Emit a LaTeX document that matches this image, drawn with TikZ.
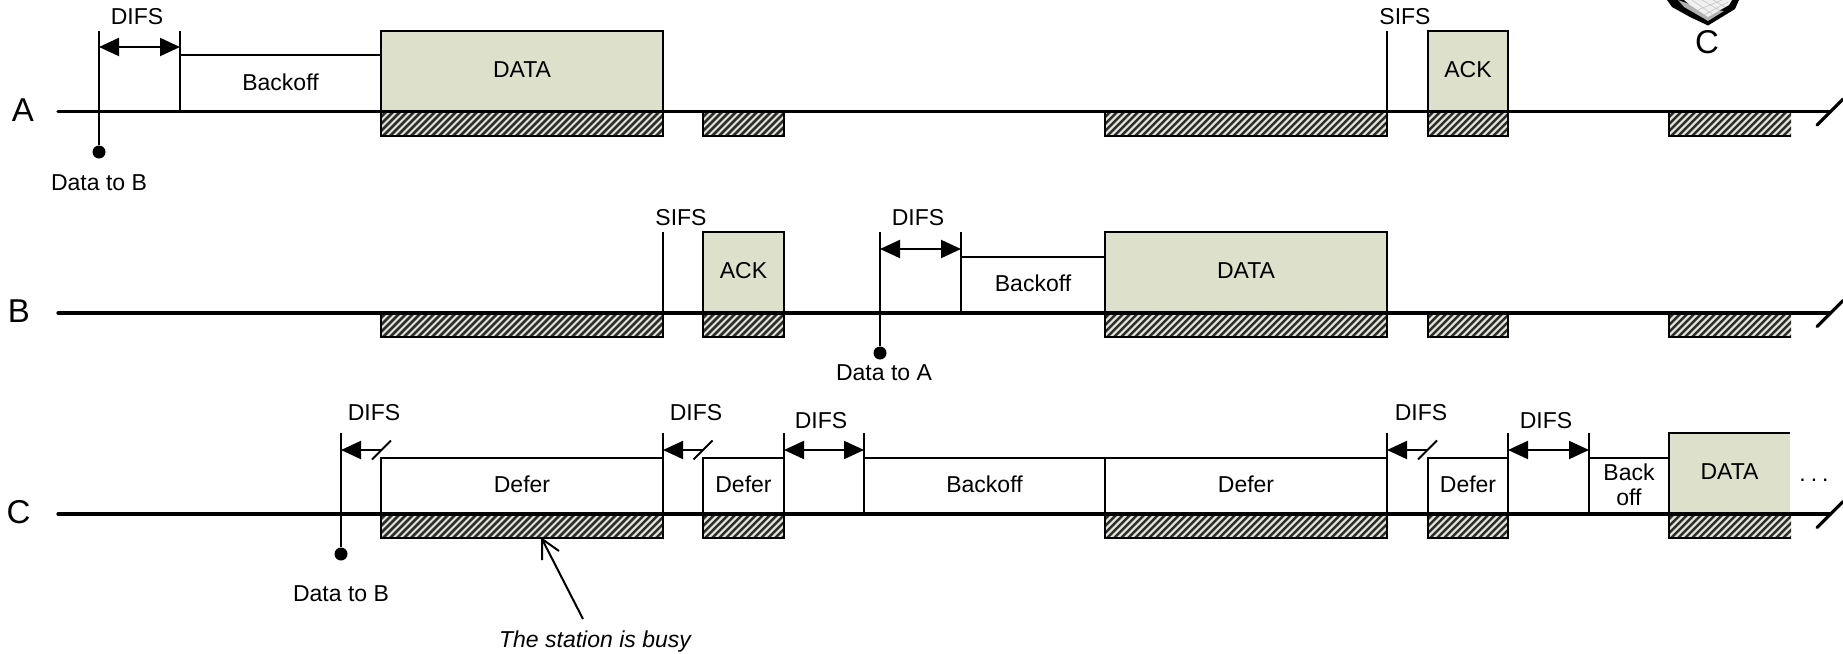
\documentclass[tikz,border=0pt]{standalone}
\usepackage{fontspec}
\setmainfont{Liberation Sans}
\usetikzlibrary{arrows.meta}
\definecolor{frameGreen}{HTML}{DDE1CB}
\definecolor{hatchLight}{HTML}{E4E5D8}
\definecolor{hatchDark}{HTML}{2E2E2E}
\tikzset{
  x=1pt,y=-1pt,
  every node/.style={font=\fontsize{23}{26}\selectfont},
  thinline/.style={line width=2pt,black},
  axisline/.style={line width=3.2pt,black,line cap=round},
  framebox/.style={draw=black,line width=2pt,fill=frameGreen,align=center,text depth=3.5pt},
  plainbox/.style={draw=black,line width=2pt,fill=white,align=center,text depth=3.5pt},
  greenflat/.style={draw=none,fill=frameGreen,align=center,text depth=3.5pt},
  hatchbase/.style={fill=hatchLight,path picture={
      \foreach \k in {-40,-33,...,320}{
        \draw[hatchDark,line width=2.5pt]
          ([xshift=\k pt]path picture bounding box.south west) -- ++(30pt,30pt);
      }}},
  hatchbox/.style={hatchbase,draw=black,line width=2pt},
  hatchflat/.style={hatchbase,draw=none},
  difs/.style={thinline,{Triangle[length=20pt,width=18pt]}-{Triangle[length=20pt,width=18pt]}},
  difshalf/.style={thinline,-{Triangle[length=20pt,width=18pt]}},
  lab/.style={inner sep=0pt},
  stationlab/.style={inner sep=0pt,font=\fontsize{33}{36}\selectfont},
  dotn/.style={circle,fill=black,draw=none,minimum size=13pt,inner sep=0pt},
}
\newcommand{\tb}[7]{%
  \pgfmathsetmacro{\tbw}{#4-#2}\pgfmathsetmacro{\tbh}{#5-#3}%
  \node[#6,anchor=north west,inner sep=0pt,outer sep=0pt,minimum width=\tbw pt,minimum height=\tbh pt] (#1) at (#2,#3) {#7};}
\newcommand{\hb}[4]{\tb{#1}{#2}{#4}{#3}{#4+24}{hatchbox}{}}
\begin{document}
\begin{tikzpicture}
\useasboundingbox (0,0) rectangle (1843,653);
\fill[white] (0,0) rectangle (1843,653);

% laptop fragment
\fill[black] (1667,0) -- (1672,7) -- (1690,17) -- (1708,25.5) -- (1735,9) -- (1739,0) -- cycle;
\fill[gray!60] (1678,0) -- (1684,7) -- (1703,18) -- (1708,21) -- (1724,11) -- (1700,8) -- cycle;
\fill[gray!12] (1684,0) -- (1690,5) -- (1708,17) -- (1729,5) -- (1732,0) -- cycle;
\draw[gray!45,line width=.6pt] (1692,0) -- (1712,14) (1702,0) -- (1719,10) (1713,0) -- (1725,7) (1722,0) -- (1698,10) (1728,2) -- (1704,15);

% station A
\tb{aback}{180}{55}{381}{112}{plainbox}{Backoff}
\tb{adata}{381}{31}{663}{112}{framebox}{DATA}
\tb{aack}{1428}{31}{1508}{112}{framebox}{ACK}
\hb{ah1}{381}{663}{112}
\hb{ah2}{703}{784}{112}
\hb{ah3}{1105}{1387}{112}
\hb{ah4}{1428}{1508}{112}
\tb{ah5}{1669}{112}{1791}{136}{hatchflat}{}
\draw[thinline] (ah5.north west) -- (ah5.south west) -- (ah5.south east);
\node[stationlab] (la) at (23,110) {A};
\coordinate (aax0) at (58,111.5); \coordinate (aax1) at (1830,111.5);
\draw[axisline] (aax0) -- (aax1);
\coordinate (as1) at (1817,125); \coordinate (as2) at (1843,99);
\draw[axisline] (as1) -- (as2);
\node[dotn] (adot) at (99,152) {};
\coordinate (at1) at (99,31); \coordinate (at2) at (180,31);
\coordinate (at2b) at (180,111); \coordinate (at3) at (1387,31); \coordinate (at3b) at (1387,111);
\draw[thinline] (at1) -- (adot);
\draw[thinline] (at2) -- (at2b);
\draw[thinline] (at3) -- (at3b);
\coordinate (ad1) at (99,47); \coordinate (ad2) at (180,47);
\draw[difs] (ad1) -- (ad2);
\node[lab] (adifs) at (137,17) {DIFS};
\node[lab] (asifs) at (1405,17) {SIFS};
\node[lab] (adt) at (99,183) {Data to B};
\node[stationlab] (lc2) at (1707,42) {C};

% station B
\tb{back}{961}{257}{1105}{313}{plainbox}{Backoff}
\tb{bdata}{1105}{232}{1387}{313}{framebox}{DATA}
\tb{back2}{703}{232}{784}{313}{framebox}{ACK}
\hb{bh1}{381}{663}{313}
\hb{bh2}{703}{784}{313}
\hb{bh3}{1105}{1387}{313}
\hb{bh4}{1428}{1508}{313}
\tb{bh5}{1669}{313}{1791}{337}{hatchflat}{}
\draw[thinline] (bh5.north west) -- (bh5.south west) -- (bh5.south east);
\node[stationlab] (lb) at (19,311) {B};
\coordinate (bax0) at (58,313); \coordinate (bax1) at (1830,313);
\draw[axisline] (bax0) -- (bax1);
\coordinate (bs1) at (1817,326.5); \coordinate (bs2) at (1843,300.5);
\draw[axisline] (bs1) -- (bs2);
\node[dotn] (bdot) at (880,353) {};
\coordinate (bt1) at (880,232); \coordinate (bt2) at (961,232); \coordinate (bt2b) at (961,312);
\coordinate (bt3) at (663,232); \coordinate (bt3b) at (663,312);
\draw[thinline] (bt1) -- (bdot);
\draw[thinline] (bt2) -- (bt2b);
\draw[thinline] (bt3) -- (bt3b);
\coordinate (bd1) at (880,249); \coordinate (bd2) at (961,249);
\draw[difs] (bd1) -- (bd2);
\node[lab] (bdifs) at (918,218) {DIFS};
\node[lab] (bsifs) at (681,218) {SIFS};
\node[lab] (bdt) at (884,373) {Data to A};

% station C
\tb{cdef1}{381}{458}{663}{514}{plainbox}{Defer}
\tb{cdef2}{703}{458}{784}{514}{plainbox}{Defer}
\tb{cback}{864}{458}{1105}{514}{plainbox}{Backoff}
\tb{cdef3}{1105}{458}{1387}{514}{plainbox}{Defer}
\tb{cdef4}{1428}{458}{1508}{514}{plainbox}{Defer}
\tb{cbo}{1589}{458}{1669}{514}{plainbox}{Back\\[-1pt]off}
\tb{cdata}{1669}{433}{1790}{514}{greenflat}{DATA}
\draw[thinline] (cdata.south west) -- (cdata.north west) -- (cdata.north east);
\hb{ch1}{381}{663}{514}
\hb{ch2}{703}{784}{514}
\hb{ch3}{1105}{1387}{514}
\hb{ch4}{1428}{1508}{514}
\tb{ch5}{1669}{514}{1791}{538}{hatchflat}{}
\draw[thinline] (ch5.north west) -- (ch5.south west) -- (ch5.south east);
\node[stationlab] (lc) at (18.5,512) {C};
\coordinate (cax0) at (58,514); \coordinate (cax1) at (1830,514);
\draw[axisline] (cax0) -- (cax1);
\coordinate (cs1) at (1817,527.5); \coordinate (cs2) at (1843,501.5);
\draw[axisline] (cs1) -- (cs2);
\node[dotn] (cdot) at (341,554) {};
\coordinate (ct1) at (341,433); \draw[thinline] (ct1) -- (cdot);
\foreach \n/\x in {c2/663,c3/784,c4/864,c5/1387,c6/1508,c7/1589}{
  \coordinate (\n t) at (\x,433); \coordinate (\n b) at (\x,514);
  \draw[thinline] (\n t) -- (\n b);
}
% interrupted DIFS
\foreach \n/\x/\mid in {h1/341/381.5,h2/663/703,h3/1387/1427.5}{
  \coordinate (\n a) at (\mid,450); \coordinate (\n b) at (\x,450);
  \draw[difshalf] (\n a) -- (\n b);
  \coordinate (\n p) at ([shift={(-9.5,9.5)}]\n a); \coordinate (\n q) at ([shift={(9.5,-9.5)}]\n a);
  \draw[thinline] (\n p) -- (\n q);
}
\coordinate (cd1) at (784,450); \coordinate (cd2) at (864,450);
\draw[difs] (cd1) -- (cd2);
\coordinate (cd3) at (1508,450); \coordinate (cd4) at (1589,450);
\draw[difs] (cd3) -- (cd4);
\node[lab] (cl1) at (374,413) {DIFS};
\node[lab] (cl2) at (696,413) {DIFS};
\node[lab] (cl3) at (821,421) {DIFS};
\node[lab] (cl4) at (1421,413) {DIFS};
\node[lab] (cl5) at (1546,421) {DIFS};
\node[lab] (cdt) at (341,594) {Data to B};
\node[lab,anchor=base] (cdots) at (1814,481) {.\kern5pt.\kern5pt.};
\node[lab] (busy) at (595,642) {\itshape The station is busy};
\coordinate (btip) at (542,539); \coordinate (btail) at (583,619);
\coordinate (barm1) at (542,560); \coordinate (barm2) at (559,551);
\draw[thinline] (btail) -- (btip);
\draw[thinline] (barm1) -- (btip) -- (barm2);
\end{tikzpicture}
\end{document}
